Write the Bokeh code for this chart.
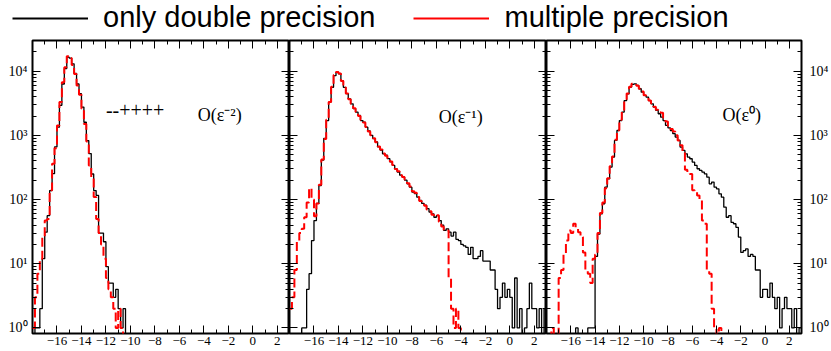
import numpy as np
from bokeh.plotting import figure
from bokeh.models import (Range1d, FixedTicker, LinearAxis, LogAxis, Legend,
                          LegendItem, Label, CustomJSTickFormatter)
from bokeh.layouts import row, column
from bokeh.embed import file_html
from bokeh.resources import INLINE

# ---------------- data ----------------
X_MIN, X_MAX = -18.0, 3.0
BIN_W = 0.2
Y_MIN, Y_MAX = 0.82, 3.0e4

x_ticks = [-16, -14, -12, -10, -8, -6, -4, -2, 0, 2]
x_minor_ticks = [-17, -15, -13, -11, -9, -7, -5, -3, -1, 1, 3]
y_ticks = [1, 10, 100, 1000, 10000]
y_tick_labels = ["10⁰", "10¹", "10²", "10³", "10⁴"]
y_minor_ticks = [m * d for d in [1, 10, 100, 1000, 10000] for m in range(2, 10)]

series_names = ["only double precision", "multiple precision"]
panel_orders = ["O(ε⁻²)", "O(ε⁻¹)", "O(ε⁰)"]
helicity_text = "--++++"

# panel 1 : O(eps^-2)
p1_double_start = -17.8
p1_double = [1, 1, 2, 12, 31, 56, 138, 253, 660, 1340, 2930, 6300, 11000, 16500,
             16000, 13000, 9200, 6300, 4450, 2760, 1600, 830, 520, 250, 138, 116,
             30, 30, 22, 9, 5, 5, 3, 4, 2, 1, 2]
p1_multi_start = -18.0
p1_multi = [1, 3, 7, 12, 26, 47, 50, 140, 360, 630, 1420, 3300, 6700, 11500, 17000,
            16000, 12500, 9000, 6000, 4300, 2600, 1500, 800, 340, 220, 110, 50, 30,
            20, 12, 6, 4, 3, 2, 1, 2, 1]

# panel 2 : O(eps^-1)
p2_double_start = -17.0
p2_double = [1, 1, 4, 7, 23, 47, 87, 165, 410, 900, 1700, 3300, 5600, 8500, 9600,
             9100, 7100, 5600, 4450, 3700, 3100, 2600, 2300, 2040, 1700, 1600, 1340,
             1170, 1000, 890, 790, 660, 590, 515, 490, 433, 385, 340, 300, 268, 240,
             224, 200, 176, 156, 131, 124, 109, 97, 87, 82, 72, 64, 60, 53, 56, 47,
             40, 33, 35, 31, 27, 31, 24, 23, 20, 19, 18, 14, 18, 12, 12, 13, 16, 11,
             11, 11, 8, 8, 4, 2, 3, 5, 3, 4, 3, 1, 6, 1, 2, 0, 1, 2, 5, 2, 2, 1, 2,
             0, 2]
p2_multi_start = -18.0
p2_multi = [2, 3, 8, 22, 30, 35, 53, 90, 150, 100, 55, 87, 170, 420, 880, 1750,
            3300, 5700, 8700, 9700, 9200, 7000, 5600, 4500, 3650, 3100, 2650, 2300,
            2000, 1750, 1580, 1350, 1150, 1000, 900, 780, 670, 600, 520, 480, 440,
            390, 345, 300, 275, 240, 225, 205, 180, 160, 135, 128, 110, 95, 90, 80,
            70, 66, 58, 55, 57, 45, 38, 33, 33, 6, 2, 1, 2, 1]

# panel 3 : O(eps^0)
p3_double_start = -15.6
p3_double = [1, 0, 0, 0, 0, 1, 1, 1, 13, 29, 60, 86, 156, 211, 320, 458, 833, 1190,
             1700, 2300, 3480, 4440, 5630, 6210, 6340, 5990, 5320, 4700, 4180, 3940,
             3480, 3100, 2750, 2440, 2170, 1920, 1700, 1430, 1310, 1190, 1060, 940,
             833, 656, 582, 516, 458, 432, 384, 340, 302, 284, 268, 252, 223, 176,
             187, 156, 147, 123, 109, 76, 53, 56, 44, 42, 37, 26, 15, 16, 17, 13,
             14, 13, 8, 8, 3, 4, 4, 3, 5, 3, 2, 3, 1, 2, 3, 2, 2, 1, 2, 0, 1]
p3_multi_start = -17.6
p3_multi = [1, 0, 0, 6, 8, 14, 23, 33, 30, 42, 35, 31, 26, 15, 8, 7, 5, 12, 14, 30,
            62, 90, 150, 215, 330, 470, 850, 1200, 1750, 2350, 3500, 4500, 5700,
            6350, 6300, 5900, 5300, 4800, 4200, 3900, 3500, 3150, 2800, 2500, 2300,
            2250, 1900, 1650, 1400, 1250, 1150, 1000, 830, 700, 560, 290, 268, 250,
            140, 135, 116, 97, 47, 42, 8, 7, 2, 1, 0, 1]

# ---------------- helpers ----------------
N_BINS = int(round((X_MAX - X_MIN) / BIN_W))
edges = X_MIN + BIN_W * np.arange(N_BINS + 1)
FLOOR = 0.3  # empty bins drop below the visible range


def full_counts(start, counts):
    arr = np.zeros(N_BINS)
    i0 = int(round((start - X_MIN) / BIN_W))
    vals = np.asarray(counts, dtype=float)[: N_BINS - i0]
    arr[i0:i0 + len(vals)] = vals
    return arr


def step_xy(start, counts):
    c = full_counts(start, counts)
    y = np.where(c > 0, c, FLOOR)
    return edges, np.append(y, y[-1])


SERIF = "Liberation Serif"
LEGEND_H = 38
PANEL_H = 313
FRAME_W = 257


def style_axis(ax, show_labels, ticks, minor, overrides=None, size="13px",
               standoff=4):
    ax.ticker = FixedTicker(ticks=ticks, minor_ticks=minor)
    ax.axis_line_color = None
    ax.major_tick_in = 8
    ax.major_tick_out = 0
    ax.minor_tick_in = 4
    ax.minor_tick_out = 0
    ax.major_tick_line_color = "black"
    ax.minor_tick_line_color = "black"
    ax.major_tick_line_width = 1
    ax.minor_tick_line_width = 1
    if show_labels:
        ax.major_label_text_font = SERIF
        ax.major_label_text_font_size = size
        ax.major_label_text_color = "black"
        ax.major_label_standoff = standoff
        if overrides:
            ax.major_label_overrides = overrides
    else:
        ax.formatter = CustomJSTickFormatter(code="return '';")
        ax.major_label_text_font_size = "1px"
        ax.major_label_standoff = 0


def make_panel(idx, dstart, dcounts, mstart, mcounts, left_labels, right_labels,
               min_left, min_right, label_pos, extra=None):
    width = FRAME_W + min_left + min_right
    p = figure(width=width, height=PANEL_H, x_range=Range1d(X_MIN, X_MAX),
               y_range=Range1d(Y_MIN, Y_MAX), y_axis_type="log",
               output_backend="svg", toolbar_location=None,
               min_border_left=min_left, min_border_right=min_right,
               min_border_top=2, min_border_bottom=18)
    p.xgrid.visible = False
    p.ygrid.visible = False
    p.outline_line_color = "black"
    p.outline_line_width = 2
    p.background_fill_color = "white"
    p.border_fill_color = "white"

    ylab = dict(zip(y_ticks, y_tick_labels))
    style_axis(p.xaxis[0], True, x_ticks, x_minor_ticks, standoff=3)
    style_axis(p.yaxis[0], left_labels, y_ticks, y_minor_ticks, ylab,
               size="14px", standoff=5)
    top = LinearAxis()
    style_axis(top, False, x_ticks, x_minor_ticks)
    p.add_layout(top, "above")
    right = LogAxis()
    style_axis(right, right_labels, y_ticks, y_minor_ticks, ylab,
               size="14px", standoff=8)
    p.add_layout(right, "right")

    xd, yd = step_xy(dstart, dcounts)
    xm, ym = step_xy(mstart, mcounts)
    p.step(x=xd, y=yd, mode="after", line_color="black", line_width=1.3)
    p.step(x=xm, y=ym, mode="after", line_color="red", line_width=2,
           line_dash="9 4")

    lx, ly = label_pos
    p.add_layout(Label(x=lx, y=ly, text=panel_orders[idx], text_font=SERIF,
                       text_font_size="18px", text_color="black",
                       text_baseline="alphabetic"))
    if extra is not None:
        ex, ey, et = extra
        p.add_layout(Label(x=ex, y=ey, text=et, text_font=SERIF,
                           text_font_size="20px", text_color="black",
                           text_baseline="middle"))
    return p


p1 = make_panel(0, p1_double_start, p1_double, p1_multi_start, p1_multi,
                True, False, 32, 0, (-4.5, 2050), extra=(-12.0, 2450, helicity_text))
p2 = make_panel(1, p2_double_start, p2_double, p2_multi_start, p2_multi,
                False, False, 0, 0, (-5.8, 1950))
p3 = make_panel(2, p3_double_start, p3_double, p3_multi_start, p3_multi,
                False, True, 0, 28, (-3.5, 2050))

# legend strip (dummy renderers lie outside the visible range)
lf = figure(width=831, height=LEGEND_H, x_range=Range1d(0, 1), y_range=Range1d(0, 1),
            output_backend="svg", toolbar_location=None, min_border=0,
            x_axis_location=None, y_axis_location=None)
lf.xgrid.visible = False
lf.ygrid.visible = False
lf.outline_line_color = None
r_d = lf.line(x=[5, 6], y=[5, 6], line_color="black", line_width=2)
r_m = lf.line(x=[5, 6], y=[5, 6], line_color="red", line_width=2)
leg = Legend(items=[LegendItem(label=series_names[0], renderers=[r_d]),
                    LegendItem(label=series_names[1], renderers=[r_m])],
             orientation="horizontal", location=(12, 4),
             label_text_font="Liberation Sans", label_text_font_size="29px",
             label_text_color="black", glyph_width=76, glyph_height=20,
             label_standoff=15, spacing=38, padding=0, margin=0,
             border_line_color=None, background_fill_alpha=0)
lf.add_layout(leg, "center")

layout = column(lf, row(p1, p2, p3))

open("out.html", "w").write(file_html(layout, INLINE))
